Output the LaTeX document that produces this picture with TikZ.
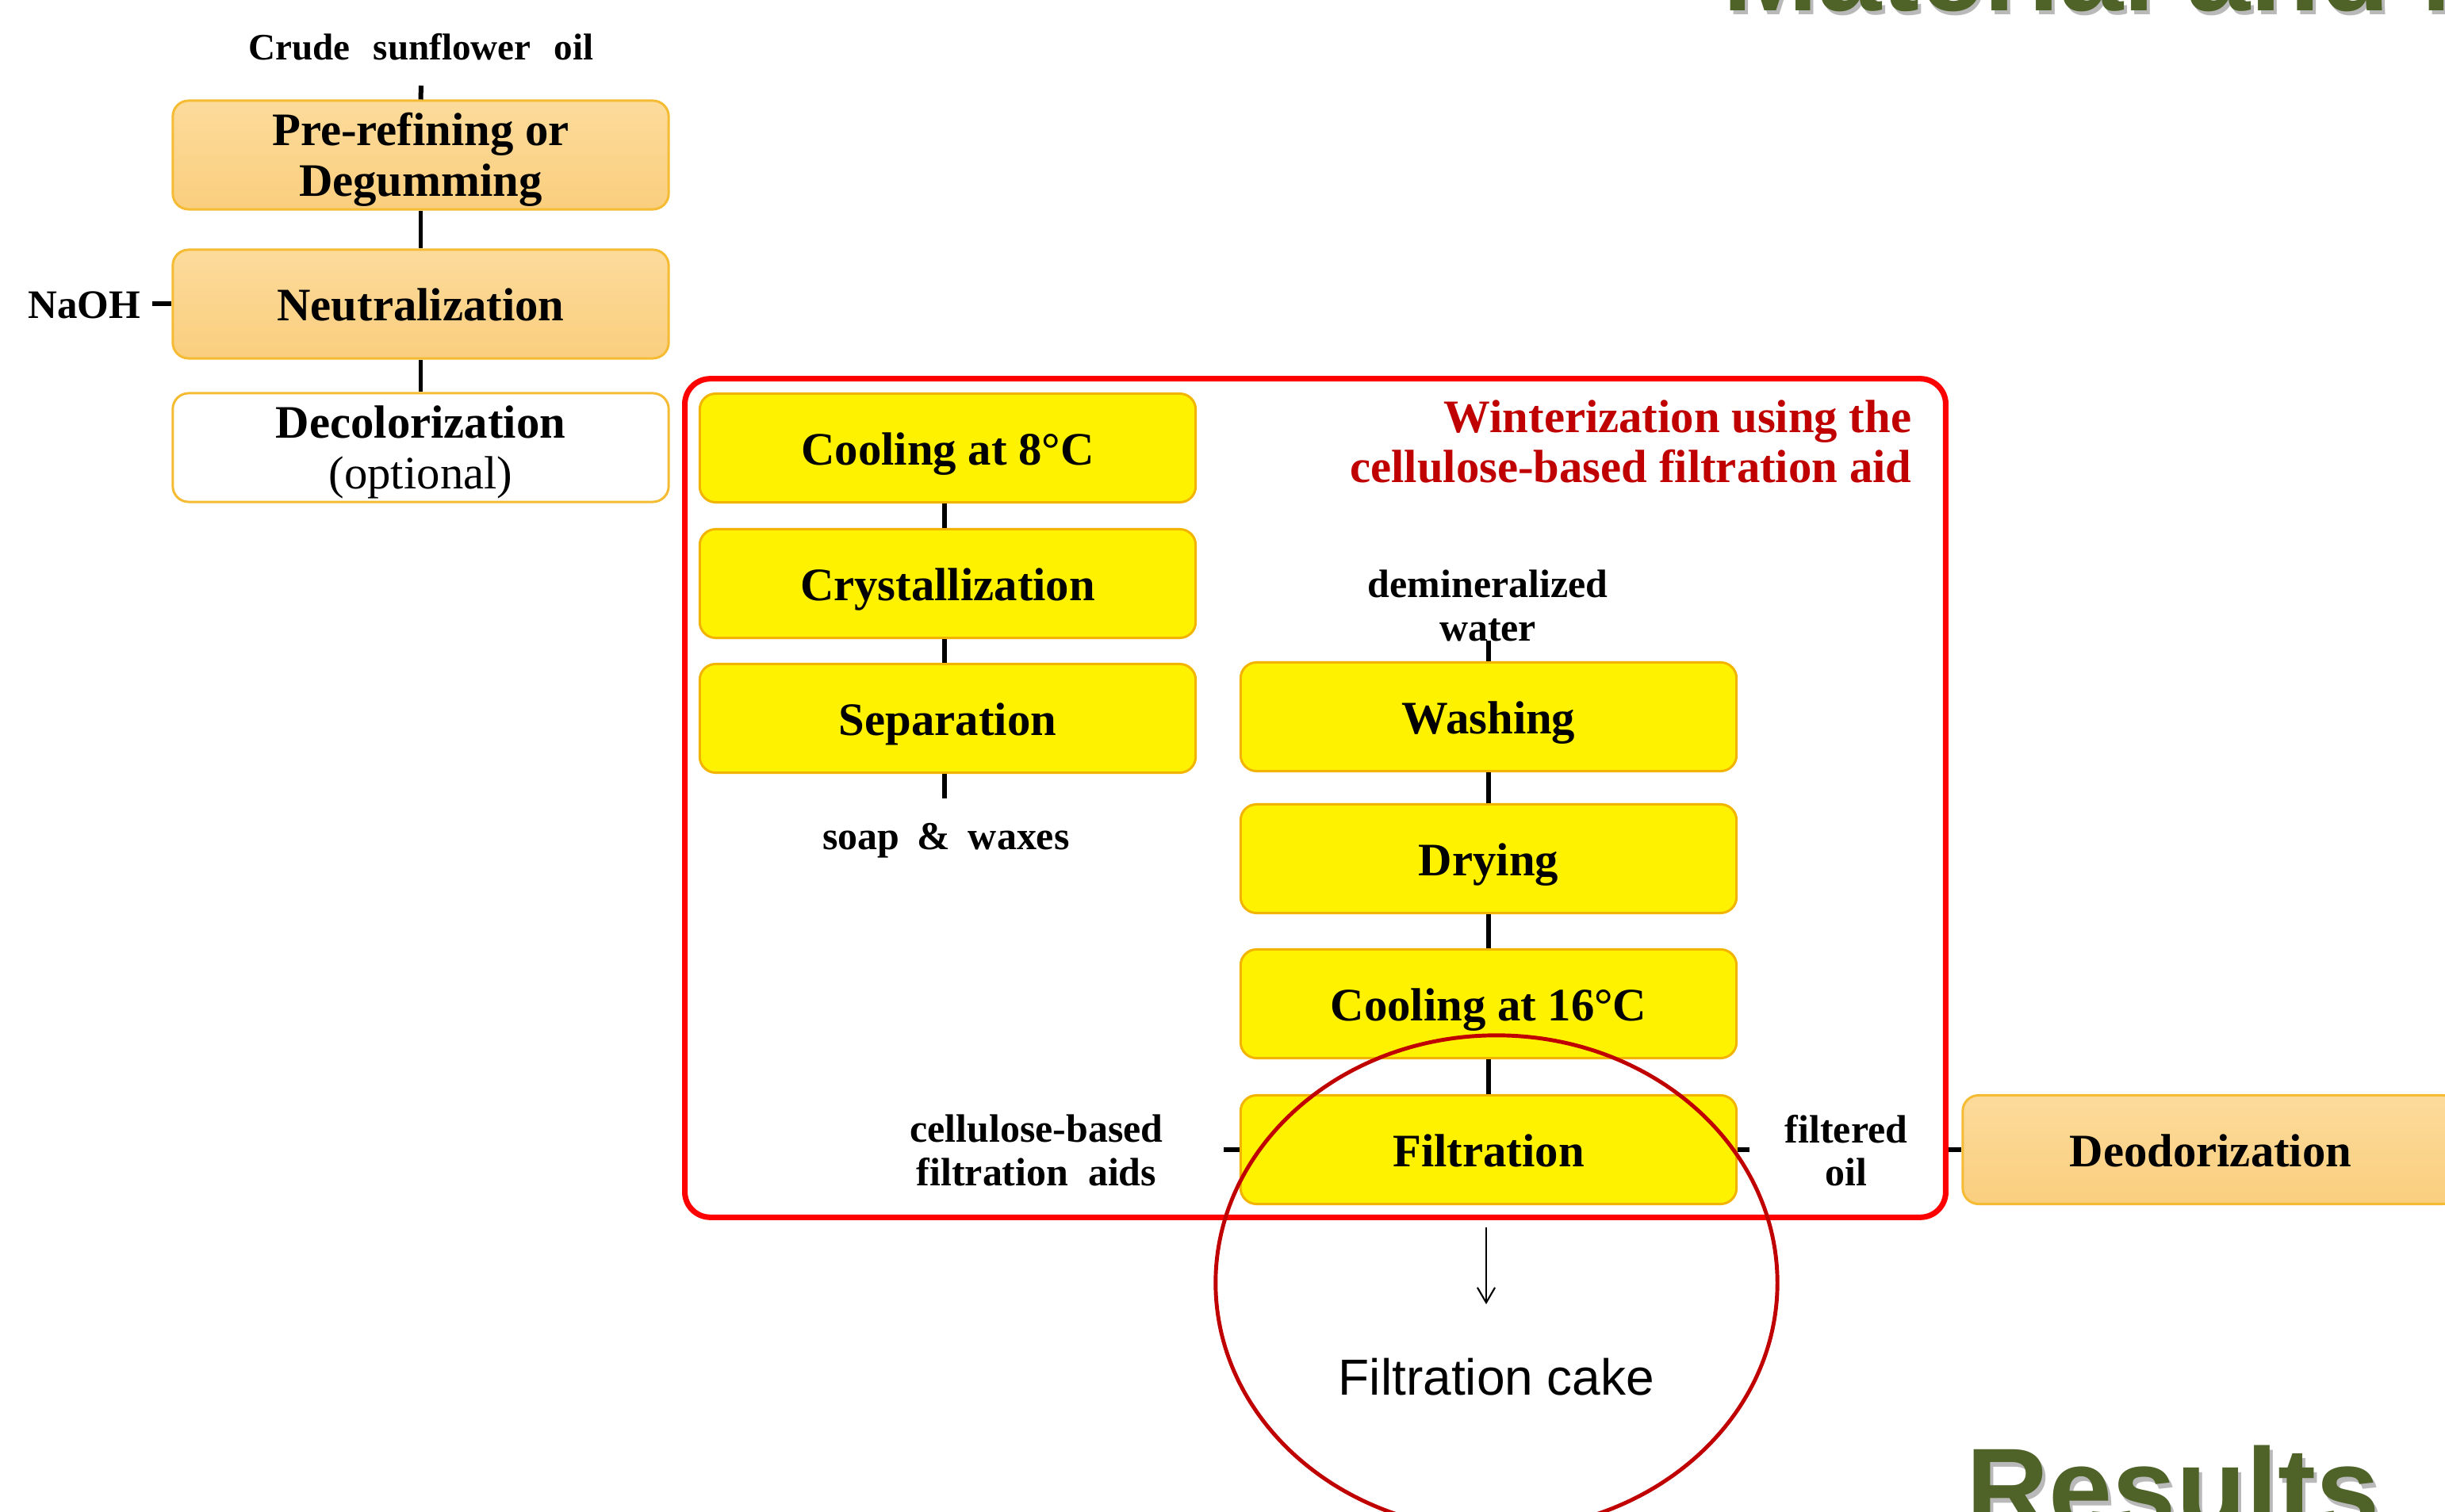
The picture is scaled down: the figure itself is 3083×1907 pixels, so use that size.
\documentclass[tikz,border=0pt]{standalone}
\usepackage{fontspec}
\setmainfont{Liberation Serif}
\newfontfamily\arialfont{Liberation Sans}
\usetikzlibrary{shapes.geometric,arrows.meta}
\definecolor{boxorangetop}{HTML}{FCDB9B}
\definecolor{boxorangebot}{HTML}{FACE7E}
\definecolor{boxedge}{HTML}{F5BB33}
\definecolor{yellowedge}{HTML}{F2B400}
\definecolor{framered}{HTML}{FF0000}
\definecolor{darkred}{HTML}{C00000}
\definecolor{olivegreen}{HTML}{4F6228}
\tikzset{
  basebox/.style={rounded corners=0.2cm, minimum width=6.25cm, minimum height=1.37cm,
    inner sep=0pt, align=center, line width=0.85pt,
    font=\fontsize{16.7}{18.4}\selectfont\bfseries},
  oneline/.style={text height=12pt, text depth=0pt},
  orangebox/.style={basebox, draw=boxedge, top color=boxorangetop, bottom color=boxorangebot},
  whitebox/.style={basebox, draw=boxedge, fill=white},
  yellowbox/.style={basebox, oneline, draw=yellowedge, fill=yellow},
  link/.style={line width=1.7pt, black},
  sidelabel/.style={inner sep=0pt, align=center, font=\fontsize{14.2}{15.4}\selectfont\bfseries},
  bigtitle/.style={anchor=base west, inner sep=0pt, font=\arialfont\bfseries\fontsize{41}{41}\selectfont},
}
\begin{document}
\begin{tikzpicture}[x=0.01cm, y=-0.01cm]
\useasboundingbox (0,0) rectangle (3083,1907);
\clip (0,0) rectangle (3083,1907);

% titles
\node[bigtitle, text=gray!55] (mattitleshadow) at (2176,19) {Material and M};
\node[bigtitle, text=olivegreen] (mattitle) at (2172,14) {Material and M};
\node[bigtitle, text=gray!55] (restitleshadow) at (2483,1933) {Results};
\node[bigtitle, text=olivegreen] (restitle) at (2479,1928) {Results};

% left column
\node[sidelabel, font=\fontsize{13.4}{15}\selectfont\bfseries] (crude) at (531,59)
  {Crude\hspace{0.62em}sunflower\hspace{0.62em}oil};
\coordinate (crudeend) at (531,108);
\node[orangebox] (pre) at (530.5,195.5) {\rule{0pt}{15pt}Pre-refining or\\Degumming};
\node[orangebox, oneline] (neut) at (530.5,383.5) {Neutralization};
\node[whitebox] (deco) at (530.5,564.5) {\rule{0pt}{15pt}Decolorization\\{\mdseries(optional)}};
\node[sidelabel, anchor=east, font=\fontsize{14.5}{15}\selectfont\bfseries] (naoh) at (178,385) {NaOH};
\coordinate (naohend) at (192,383.5);

\draw[link] (crudeend) -- (pre.north);
\draw[link] (pre.south) -- (neut.north);
\draw[link] (neut.south) -- (deco.north);
\draw[link] (naohend) -- (neut.west);

% winterization frame
\node[draw=framered, line width=2pt, rounded corners=0.32cm, minimum width=15.89cm,
  minimum height=10.57cm, inner sep=0pt] (frame) at (1658.5,1006.5) {};
\node[anchor=east, align=right, inner sep=0pt, text=darkred,
  font=\fontsize{16.7}{17.9}\selectfont\bfseries] (wtitle) at (2411,557)
  {Winterization using the\\cellulose-based filtration aid};

\node[yellowbox] (cool8) at (1195,565) {Cooling at 8°C};
\node[yellowbox] (cryst) at (1195,736) {Crystallization};
\node[yellowbox] (sepa) at (1195,906) {Separation};
\coordinate (soapend) at (1191,1007);
\node[sidelabel] (soap) at (1193,1060) {soap\hspace{0.45em}\&\hspace{0.45em}waxes};

\draw[link] (cool8.south -| soapend) -- (cryst.north -| soapend);
\draw[link] (cryst.south -| soapend) -- (sepa.north -| soapend);
\draw[link] (sepa.south -| soapend) -- (soapend);

\node[sidelabel] (water) at (1876,764) {demineralized\\water};
\coordinate (waterend) at (1877,808);
\node[yellowbox] (wash) at (1877,904) {Washing};
\node[yellowbox] (dry) at (1877,1083) {Drying};
\node[yellowbox] (cool16) at (1877,1266) {Cooling at 16°C};
\node[yellowbox] (filt) at (1877,1450) {Filtration};

\draw[link] (waterend) -- (wash.north);
\draw[link] (wash.south) -- (dry.north);
\draw[link] (dry.south) -- (cool16.north);
\draw[link] (cool16.south) -- (filt.north);

\node[sidelabel] (aids) at (1307,1451) {cellulose-based\\filtration\hspace{0.5em}aids};
\coordinate (aidsend) at (1543,1450);
\node[sidelabel] (oil) at (2328,1451) {filtered\\oil};
\coordinate (oilend) at (2206,1450);
\draw[link] (aidsend) -- (filt.west);
\draw[link] (filt.east) -- (oilend);

\node[orangebox, oneline] (deo) at (2787.5,1450) {Deodorization};
\draw[link] (deo.west -| frame.east) -- (deo.west);

% filtration cake
\node[inner sep=0pt, font=\arialfont\fontsize{18.2}{20}\selectfont] (cake) at (1887,1737) {Filtration cake};
\coordinate (arrtop) at (1874,1548);
\coordinate (arrtip) at (1874,1645);
\draw[line width=0.6pt, -{Straight Barb[length=5.4pt,width=6.3pt]}] (arrtop) -- (arrtip);

\node[draw=darkred, line width=1.4pt, ellipse, minimum width=7.08cm, minimum height=6.24cm,
  inner sep=0pt] (ring) at (1887,1618) {};
\end{tikzpicture}
\end{document}
